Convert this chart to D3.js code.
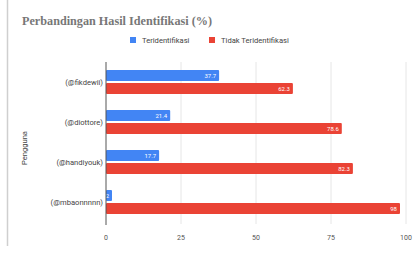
<!DOCTYPE html>
<html><head><meta charset="utf-8">
<script src="https://cdn.jsdelivr.net/npm/d3@7"></script>
<style>body{margin:0;background:#fff;}svg{display:block;}</style>
</head><body>
<script>
const categories = ["(@fikdewii)", "(@diottore)", "(@handiyouk)", "(@mbaonnnnn)"];
const seriesNames = ["Teridentifikasi", "Tidak Teridentifikasi"];
const teridentifikasi = [37.7, 21.4, 17.7, 2];
const tidakTeridentifikasi = [62.3, 78.6, 82.3, 98];
const xTicks = [0, 25, 50, 75, 100];
const colors = ["#4285f4", "#ea4335"];

const W = 414, H = 253;
const svg = d3.select("body").append("svg").attr("width", W).attr("height", H);

// left border line
svg.append("line").attr("x1", 7.5).attr("x2", 7.5).attr("y1", 0).attr("y2", 246)
  .attr("stroke", "#cfcfcf").attr("stroke-width", 1.5);

svg.append("text").attr("x", 22).attr("y", 25)
  .attr("font-family", "Liberation Serif, serif").attr("font-weight", "bold")
  .attr("font-size", 12.2).attr("fill", "#777").text("Perbandingan Hasil Identifikasi (%)");

// legend
const legend = svg.append("g").attr("font-family", "Roboto, sans-serif").attr("font-size", 7.6).attr("fill", "#444");
const legX = [130, 209];
seriesNames.forEach((n, i) => {
  legend.append("rect").attr("x", legX[i]).attr("y", 37).attr("width", 6).attr("height", 6).attr("fill", colors[i]);
  legend.append("text").attr("x", legX[i] + 12).attr("y", 42.8).text(n);
});

const x = d3.scaleLinear().domain([0, 100]).range([106, 406]);
const y = d3.scaleBand().domain(categories).range([62, 222]).paddingInner(0.4).paddingOuter(0.2);
const sub = d3.scaleBand().domain([0, 1]).range([0, y.bandwidth()]).paddingInner(0.15);

// grid
svg.append("g").selectAll("line").data(xTicks.slice(1)).join("line")
  .attr("x1", d => x(d)).attr("x2", d => x(d)).attr("y1", 62).attr("y2", 224)
  .attr("stroke", "#e6e6e6").attr("stroke-width", 1);

const series = [teridentifikasi, tidakTeridentifikasi];
series.forEach((vals, si) => {
  const g = svg.append("g");
  g.selectAll("rect").data(vals).join("rect")
    .attr("x", x(0)).attr("y", (d, i) => y(categories[i]) + sub(si))
    .attr("width", d => x(d) - x(0)).attr("height", sub.bandwidth())
    .attr("fill", colors[si]).attr("rx", 1);
  g.selectAll("text").data(vals).join("text")
    .attr("x", d => x(d) - 3).attr("y", (d, i) => y(categories[i]) + sub(si) + sub.bandwidth() / 2 + 2.2)
    .attr("text-anchor", "end").attr("font-family", "Roboto, sans-serif").attr("font-size", 6)
    .attr("fill", "#fff").text(d => d);
});

// axis line
svg.append("line").attr("x1", x(0)).attr("x2", x(0)).attr("y1", 62).attr("y2", 225)
  .attr("stroke", "#555").attr("stroke-width", 1);

// x tick labels
svg.append("g").selectAll("text").data(xTicks).join("text")
  .attr("x", d => x(d)).attr("y", 240).attr("text-anchor", "middle")
  .attr("font-family", "Roboto, sans-serif").attr("font-size", 7).attr("fill", "#555").text(d => d);

// category labels
svg.append("g").selectAll("text").data(categories).join("text")
  .attr("x", 103).attr("y", d => y(d) + y.bandwidth() / 2 + 2.6).attr("text-anchor", "end")
  .attr("font-family", "Roboto, sans-serif").attr("font-size", 7.6).attr("fill", "#444").text(d => d);

svg.append("text").attr("transform", "translate(27,148) rotate(-90)").attr("text-anchor", "middle")
  .attr("font-family", "Roboto, sans-serif").attr("font-size", 7.6).attr("fill", "#444").text("Pengguna");
</script>
</body></html>
